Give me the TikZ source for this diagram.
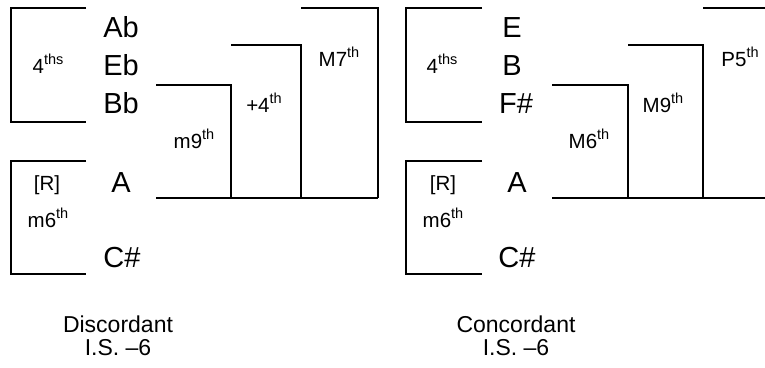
\documentclass[tikz,border=0pt]{standalone}
\usepackage{fontspec}
\setmainfont{Liberation Sans}
\usetikzlibrary{positioning}

% raised ordinal suffix, as in 4ths or M7th
\newcommand\ordsfx[1]{\raisebox{0.42em}{\fontsize{14.5}{14.5}\selectfont #1}}

\tikzset{
	note/.style={font=\fontsize{29}{29}\selectfont, anchor=base},
	ival/.style={font=\fontsize{20.5}{20.5}\selectfont, anchor=base},
	capt/.style={font=\fontsize{23}{23}\selectfont, anchor=base},
	bar/.style={line width=1.6pt},
}

\begin{document}
\begin{tikzpicture}[x=1pt,y=-1pt]
		\useasboundingbox (0,0) rectangle (765,367);
		% discordant set
		\draw[bar] (86,8)--(11,8)--(11,122)--(86,122);
		\draw[bar] (86,161)--(11,161)--(11,274)--(86,274);
		\node[ival] (dfourths) at (48,73) {4\ordsfx{ths}};
		\node[ival] (droot) at (47,190) {[R]};
		\node[ival] (dsixth) at (48,227) {m6\ordsfx{th}};
		\node[note] (dAb) at (121,37) {Ab};
		\node[note] (dEb) at (121,75) {Eb};
		\node[note] (dBb) at (121,113) {Bb};
		\node[note] (dA) at (121,192) {A};
		\node[note] (dCs) at (122,267) {C\#};
		\draw[bar] (156,198)--(378,198);
		\draw[bar] (156,85)--(231,85)--(231,198);
		\draw[bar] (231,45)--(301,45)--(301,198);
		\draw[bar] (301,8)--(378,8)--(378,198);
		\node[ival] (dninth) at (194,148) {m9\ordsfx{th}};
		\node[ival] (dtritone) at (264,112) {+4\ordsfx{th}};
		\node[ival] (dseventh) at (339,66) {M7\ordsfx{th}};
		\node[capt] (dname) at (118,332) {Discordant};
		\node[capt] (dis) at (118,355) {I.S. –6};
		% concordant set
		\draw[bar] (482,8)--(406,8)--(406,122)--(482,122);
		\draw[bar] (482,161)--(406,161)--(406,274)--(482,274);
		\node[ival] (cfourths) at (442,73) {4\ordsfx{ths}};
		\node[ival] (croot) at (443,190) {[R]};
		\node[ival] (csixth) at (443,227) {m6\ordsfx{th}};
		\node[note] (cE) at (512,37) {E};
		\node[note] (cB) at (512,75) {B};
		\node[note] (cFs) at (516,113) {F\#};
		\node[note] (cA) at (517,192) {A};
		\node[note] (cCs) at (517,267) {C\#};
		\draw[bar] (552,198)--(765,198);
		\draw[bar] (552,85)--(628,85)--(628,198);
		\draw[bar] (628,45)--(703,45)--(703,198);
		\draw[bar] (703,8)--(765,8);
		\node[ival] (csixthb) at (589,148) {M6\ordsfx{th}};
		\node[ival] (cninth) at (663,112) {M9\ordsfx{th}};
		\node[ival] (cfifth) at (740,66) {P5\ordsfx{th}};
		\node[capt] (cname) at (516,332) {Concordant};
		\node[capt] (cis) at (516,355) {I.S. –6};
		\end{tikzpicture}
\end{document}
